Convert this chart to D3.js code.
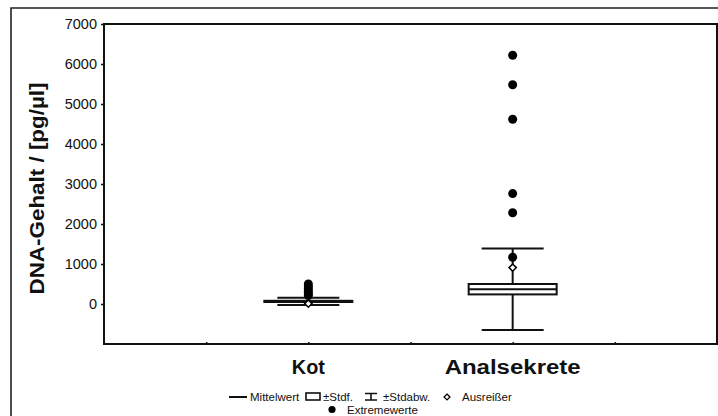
<!DOCTYPE html>
<html>
<head>
<meta charset="utf-8">
<script src="https://cdn.jsdelivr.net/npm/d3@7"></script>
<style>
  html, body { margin: 0; padding: 0; background: #fff; }
  svg { display: block; font-family: "Liberation Sans", Arial, sans-serif; }
</style>
</head>
<body>
<svg id="chart" width="718" height="416"></svg>
<script>
// Groups and their summary statistics (DNA content in pg/µl)
const categories = ["Kot", "Analsekrete"];
const categoryPos = [2, 4];
const means = [65, 370];
const stdErrors = [15, 130];
const stdDevs = [90, 1020];
const outliers = [[10], [910]];
const extremes = [
  [500, 440, 380, 320, 260, 210],
  [6220, 5480, 4620, 2760, 2280, 1170]
];
const yTicks = [0, 1000, 2000, 3000, 4000, 5000, 6000, 7000];
const legendLabels = ["Mittelwert", "±Stdf.", "±Stdabw.", "Ausreißer", "Extremewerte"];

const svg = d3.select("#chart");
const plot = { left: 104, right: 717, top: 24, bottom: 344 };

const x = d3.scaleLinear().domain([0, 6]).range([plot.left, plot.right]);
const y = d3.scaleLinear().domain([-1000, 7000]).range([plot.bottom, plot.top]);

// Outer frame
svg.append("path")
  .attr("d", `M11,416 V8 H718`)
  .attr("fill", "none").attr("stroke", "#222").attr("stroke-width", 1.6);

// Plot frame
svg.append("rect")
  .attr("x", plot.left).attr("y", plot.top)
  .attr("width", plot.right - plot.left).attr("height", plot.bottom - plot.top)
  .attr("fill", "none").attr("stroke", "#111").attr("stroke-width", 2);

// Y axis
const yAxis = svg.append("g")
  .attr("transform", `translate(${plot.left},0)`)
  .call(d3.axisLeft(y).tickValues(yTicks).tickSize(3).tickPadding(4).tickFormat(d3.format("d")));
yAxis.select(".domain").remove();
yAxis.selectAll("line").attr("stroke", "#111").attr("stroke-width", 1.5);
yAxis.selectAll("text").attr("font-size", 14.5).attr("fill", "#111")
  .attr("font-family", "'Liberation Sans', Arial, sans-serif");

// X axis: small inner ticks and category labels
const xAxis = svg.append("g")
  .attr("transform", `translate(0,${plot.bottom})`)
  .call(d3.axisTop(x).tickValues([1, 2, 3, 4, 5]).tickSize(2).tickFormat(""));
xAxis.select(".domain").remove();
xAxis.selectAll("line").attr("stroke", "#111").attr("stroke-width", 1.5);

const catWidths = [33, 136];
svg.selectAll("text.cat")
  .data(categories)
  .join("text")
  .attr("class", "cat")
  .attr("x", (d, i) => x(categoryPos[i]))
  .attr("y", 374)
  .attr("text-anchor", "middle")
  .attr("font-size", 19.5)
  .attr("font-weight", "bold")
  .attr("fill", "#111")
  .attr("textLength", (d, i) => catWidths[i])
  .attr("lengthAdjust", "spacingAndGlyphs")
  .text(d => d);

// Y axis title
svg.append("text")
  .attr("transform", `translate(44,188.5) rotate(-90)`)
  .attr("text-anchor", "middle")
  .attr("font-size", 19.5)
  .attr("font-weight", "bold")
  .attr("fill", "#111")
  .attr("textLength", 212)
  .attr("lengthAdjust", "spacingAndGlyphs")
  .text("DNA-Gehalt / [pg/µl]");

// Box plots
const boxHalf = 44, capHalf = 31;
const groups = svg.append("g").selectAll("g")
  .data(categories.map((c, i) => ({
    c, cx: x(categoryPos[i]), mean: means[i], se: stdErrors[i], sd: stdDevs[i],
    out: outliers[i], ext: extremes[i]
  })))
  .join("g");

const stroke = "#111";
groups.append("line") // vertical whisker
  .attr("x1", d => d.cx).attr("x2", d => d.cx)
  .attr("y1", d => y(d.mean - d.sd)).attr("y2", d => y(d.mean + d.sd))
  .attr("stroke", stroke).attr("stroke-width", 2);
groups.selectAll("line.cap")
  .data(d => [d.mean - d.sd, d.mean + d.sd].map(v => ({ v, cx: d.cx })))
  .join("line").attr("class", "cap")
  .attr("x1", d => d.cx - capHalf).attr("x2", d => d.cx + capHalf)
  .attr("y1", d => y(d.v)).attr("y2", d => y(d.v))
  .attr("stroke", stroke).attr("stroke-width", 2);
groups.append("rect") // ±SE box
  .attr("x", d => d.cx - boxHalf).attr("width", 2 * boxHalf)
  .attr("y", d => y(d.mean + d.se))
  .attr("height", d => y(d.mean - d.se) - y(d.mean + d.se))
  .attr("fill", "#fff").attr("stroke", stroke).attr("stroke-width", 2);
groups.append("line") // mean
  .attr("x1", d => d.cx - boxHalf).attr("x2", d => d.cx + boxHalf)
  .attr("y1", d => y(d.mean)).attr("y2", d => y(d.mean))
  .attr("stroke", stroke).attr("stroke-width", 2);

groups.selectAll("circle.ext")
  .data(d => d.ext.map(v => ({ v, cx: d.cx })))
  .join("circle").attr("class", "ext")
  .attr("cx", d => d.cx).attr("cy", d => y(d.v)).attr("r", 4.5)
  .attr("fill", "#000");

const diamond = d3.symbol().type(d3.symbolDiamond2).size(34);
groups.selectAll("path.out")
  .data(d => d.out.map(v => ({ v, cx: d.cx })))
  .join("path").attr("class", "out")
  .attr("d", diamond)
  .attr("transform", d => `translate(${d.cx},${y(d.v)})`)
  .attr("fill", "#fff").attr("stroke", "#000").attr("stroke-width", 1.5);

// Legend
const lg = svg.append("g").attr("font-size", 11.5).attr("fill", "#111");
lg.append("line").attr("x1", 229).attr("x2", 247).attr("y1", 397).attr("y2", 397)
  .attr("stroke", stroke).attr("stroke-width", 2);
lg.append("text").attr("x", 250).attr("y", 401).text(legendLabels[0]);
lg.append("rect").attr("x", 306).attr("y", 393).attr("width", 14).attr("height", 7)
  .attr("fill", "#fff").attr("stroke", stroke).attr("stroke-width", 1.6);
lg.append("text").attr("x", 323).attr("y", 401).text(legendLabels[1]);
lg.append("path").attr("d", "M365,393.5 H377 M371,393.5 V400 M365,400 H377")
  .attr("fill", "none").attr("stroke", stroke).attr("stroke-width", 1.6);
lg.append("text").attr("x", 383).attr("y", 401).text(legendLabels[2]);
lg.append("path").attr("d", d3.symbol().type(d3.symbolDiamond2).size(22))
  .attr("transform", "translate(447,397)")
  .attr("fill", "#fff").attr("stroke", "#000").attr("stroke-width", 1.3);
lg.append("text").attr("x", 462).attr("y", 401).text(legendLabels[3]);
lg.append("circle").attr("cx", 332).attr("cy", 409.5).attr("r", 3.6).attr("fill", "#000");
lg.append("text").attr("x", 347).attr("y", 414).text(legendLabels[4]);
</script>
</body>
</html>
